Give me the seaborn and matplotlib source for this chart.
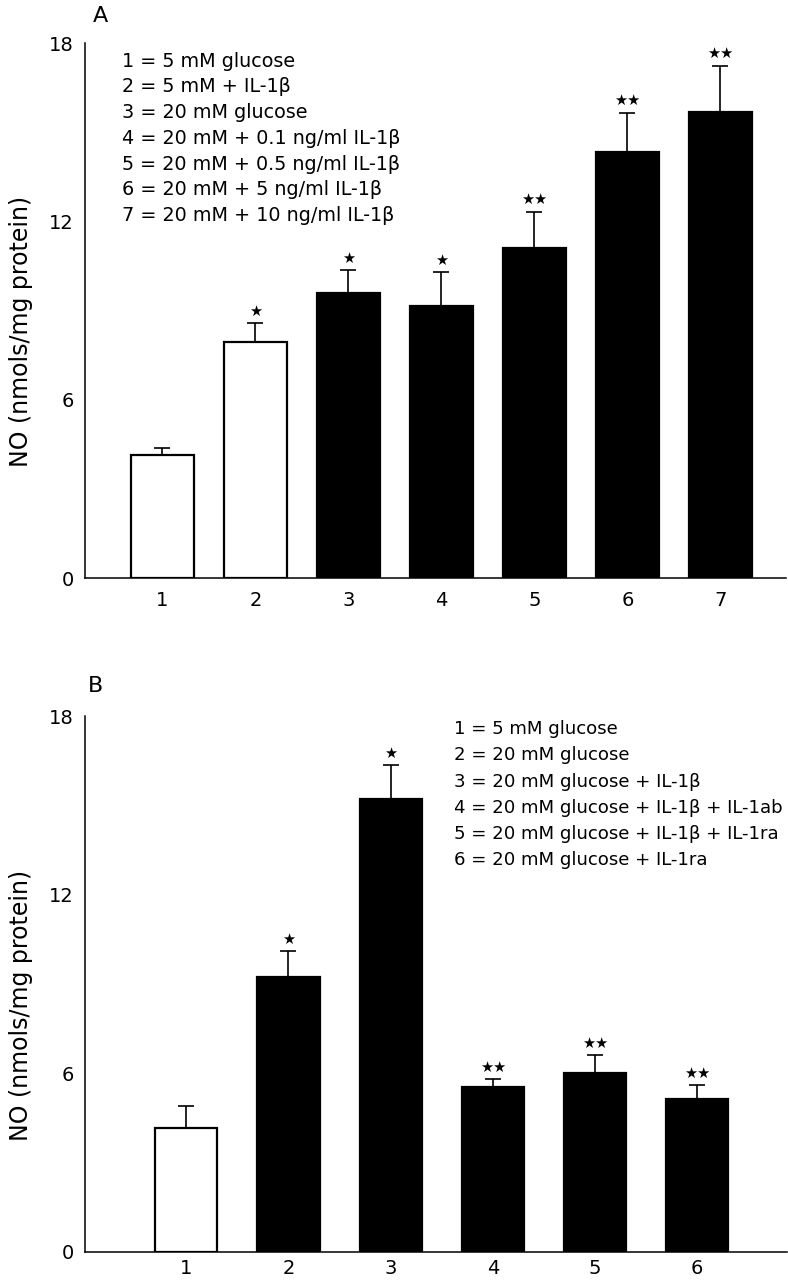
import numpy as np
import pandas as pd
import matplotlib
matplotlib.use('Agg')
import matplotlib.pyplot as plt
import seaborn as sns

# panel A: NO production, glucose and IL-1b dose
labels_a = ['1', '2', '3', '4', '5', '6', '7']
means_a = [4.13, 7.94, 9.59, 9.14, 11.10, 14.35, 15.69]
sem_a = [0.24, 0.64, 0.78, 1.14, 1.23, 1.31, 1.55]
stars_a = ['', '★', '★', '★', '★★', '★★', '★★']
fill_a = ['white', 'white', 'black', 'black', 'black', 'black', 'black']
legend_a = ['1 = 5 mM glucose',
            '2 = 5 mM + IL-1β',
            '3 = 20 mM glucose',
            '4 = 20 mM + 0.1 ng/ml IL-1β',
            '5 = 20 mM + 0.5 ng/ml IL-1β',
            '6 = 20 mM + 5 ng/ml IL-1β',
            '7 = 20 mM + 10 ng/ml IL-1β']

# panel B: blocking with IL-1ab / IL-1ra
labels_b = ['1', '2', '3', '4', '5', '6']
means_b = [4.17, 9.22, 15.20, 5.53, 6.02, 5.15]
sem_b = [0.73, 0.88, 1.15, 0.29, 0.58, 0.45]
stars_b = ['', '★', '★', '★★', '★★', '★★']
fill_b = ['white', 'black', 'black', 'black', 'black', 'black']
legend_b = ['1 = 5 mM glucose',
            '2 = 20 mM glucose',
            '3 = 20 mM glucose + IL-1β',
            '4 = 20 mM glucose + IL-1β + IL-1ab',
            '5 = 20 mM glucose + IL-1β + IL-1ra',
            '6 = 20 mM glucose + IL-1ra']

yticks = [0, 6, 12, 18]

sns.set_style('white')
plt.rcParams['font.family'] = ['DejaVu Sans']
for key in ['text.color', 'axes.labelcolor', 'xtick.color', 'ytick.color']:
    plt.rcParams[key] = 'black'


def draw_panel(ax, labels, means, sem, stars, fills, width, xlim, xpad):
    df = pd.DataFrame({'group': labels, 'no': means})
    sns.barplot(data=df, x='group', y='no', hue='group', order=labels,
                palette=dict(zip(labels, fills)), legend=False,
                width=width, edgecolor='black', linewidth=1.6,
                saturation=1, ax=ax)
    x = np.arange(len(labels))
    ax.errorbar(x, means, yerr=[np.zeros(len(sem)), sem], fmt='none',
                ecolor='black', elinewidth=1.2, capsize=6, capthick=1.2,
                zorder=3)
    for xi, m, s, st in zip(x, means, sem, stars):
        if st:
            ax.annotate(st, (xi, m + s), xytext=(0, 3),
                        textcoords='offset points', ha='center',
                        va='bottom', fontsize=10.5)
    ax.set_ylim(0, 18)
    ax.set_xlim(*xlim)
    ax.set_yticks(yticks)
    ax.set_xlabel('')
    ax.set_ylabel('NO (nmols/mg protein)', fontsize=17)
    ax.yaxis.set_label_coords(-0.074, 0.46)
    sns.despine(ax=ax)
    for side in ['left', 'bottom']:
        ax.spines[side].set_linewidth(1.1)
        ax.spines[side].set_color('black')
    ax.tick_params(axis='y', direction='in', length=13, width=1.1,
                   labelsize=14, pad=8)
    ax.tick_params(axis='x', length=0, labelsize=14, pad=xpad)


fig = plt.figure(figsize=(7.88, 12.8), dpi=100)
ax_a = fig.add_axes([0.108, 0.5484, 0.890, 0.418])
ax_b = fig.add_axes([0.108, 0.0219, 0.891, 0.4187])

draw_panel(ax_a, labels_a, means_a, sem_a, stars_a, fill_a, 0.68,
           (-0.83, 6.71), 9)
draw_panel(ax_b, labels_b, means_b, sem_b, stars_b, fill_b, 0.61,
           (-0.99, 5.88), 5)

ax_a.text(0.052, 0.984, '\n'.join(legend_a), transform=ax_a.transAxes,
          fontsize=13.8, va='top', ha='left', linespacing=1.45)
ax_b.text(0.525, 0.992, '\n'.join(legend_b), transform=ax_b.transAxes,
          fontsize=13.1, va='top', ha='left', linespacing=1.58)

fig.text(100 / 788, 1 - 16 / 1280, 'A', fontsize=16, ha='center', va='center')
fig.text(96 / 788, 1 - 686 / 1280, 'B', fontsize=16, ha='center', va='center')

fig.savefig('out.png', dpi=100)
